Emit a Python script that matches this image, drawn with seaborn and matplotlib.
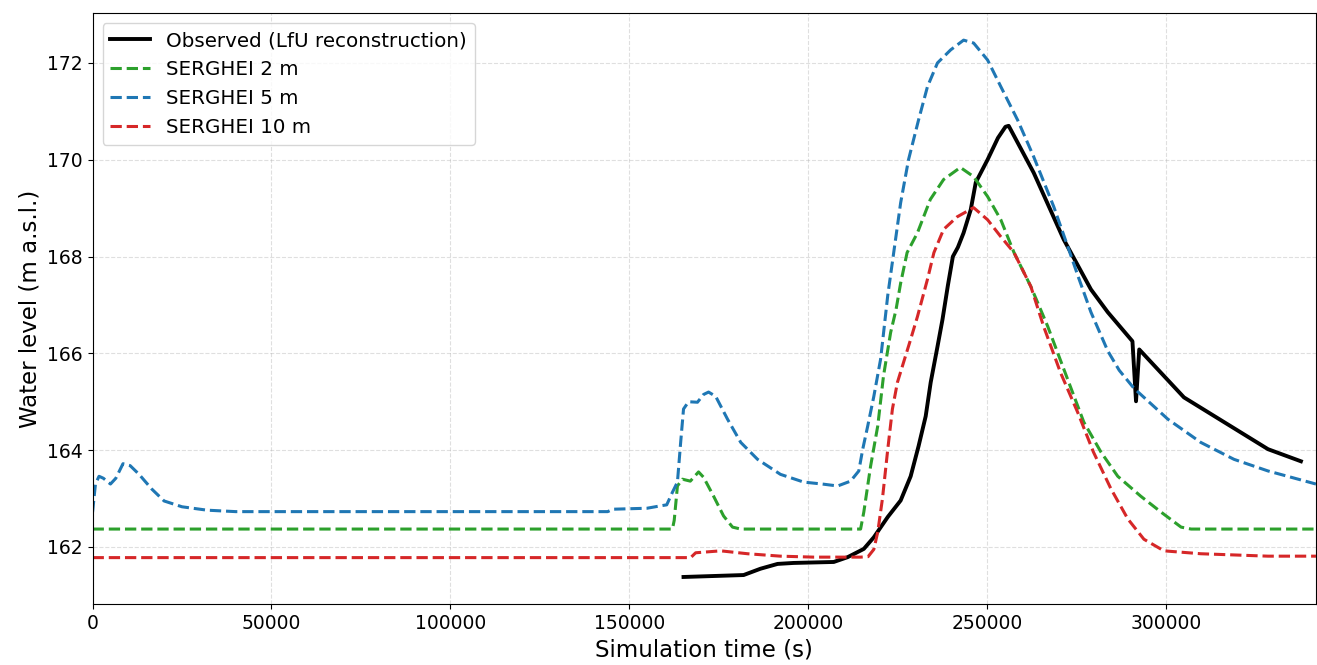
import numpy as np
import pandas as pd
import seaborn as sns
import matplotlib
matplotlib.use("Agg")
import matplotlib.pyplot as plt

# Observed water level (LfU reconstruction)
t_obs = [165200, 173600, 182000, 186700, 191500, 196000, 207200, 211100, 215600,
         218400, 222300, 225900, 228700, 230900, 232900, 234300, 236200, 237600,
         239100, 240500, 241900, 243500, 245500, 246900, 250200, 253100, 255200,
         256100, 263100, 271500, 279100, 283800, 290700, 291700, 292600, 305100,
         328600, 337800]
h_obs = [161.38, 161.40, 161.42, 161.55, 161.65, 161.67, 161.69, 161.79, 161.96,
         162.20, 162.62, 162.96, 163.46, 164.08, 164.70, 165.40, 166.14, 166.70,
         167.40, 168.00, 168.19, 168.49, 168.97, 169.53, 170.00, 170.45, 170.68,
         170.70, 169.73, 168.35, 167.32, 166.85, 166.25, 165.01, 166.08, 165.09,
         164.02, 163.77]

# SERGHEI 2 m
t_2m = [0, 162100, 162600, 163500, 164900, 167100, 169400, 170800, 173600, 176400,
        178900, 181200, 214700, 215600, 217500, 219500, 221100, 223100, 224600,
        225900, 227700, 230600, 234200, 237900, 242600, 246300, 250200, 253900,
        257600, 262300, 267000, 272600, 277100, 281900, 286600, 293000, 298700,
        304300, 307100, 342000]
h_2m = [162.37, 162.37, 162.55, 163.26, 163.40, 163.36, 163.55, 163.44, 163.05, 162.64,
        162.41, 162.37, 162.37, 162.72, 163.67, 164.50, 165.53, 166.43, 166.90,
        167.45, 168.08, 168.49, 169.18, 169.59, 169.84, 169.65, 169.24, 168.76,
        168.08, 167.38, 166.56, 165.46, 164.58, 163.96, 163.46, 163.05, 162.72,
        162.41, 162.37, 162.37]

# SERGHEI 5 m
t_5m = [0, 800, 1800, 3000, 5000, 6500, 8500, 10500, 13000, 16500, 20000, 25000,
        32000, 40000, 144000, 145500, 155000, 158800, 160500, 162100, 163500, 164400,
        165200, 166600, 169100, 170800, 172200, 174200, 177500, 181200, 185900,
        192300, 198800, 204000, 208300, 211900, 214200, 215300, 216700, 218400,
        220300, 222300, 225900, 228100, 230900, 233400, 236200, 239900, 243500,
        246300, 250200, 253900, 258600, 263100, 268700, 272600, 275700, 279100,
        283800, 287000, 291100, 300600, 309800, 319100, 328600, 342000]
h_5m = [162.72, 163.30, 163.46, 163.42, 163.30, 163.42, 163.72, 163.68, 163.50, 163.20,
        162.95, 162.83, 162.76, 162.73, 162.73, 162.78, 162.80, 162.85, 162.87, 163.13,
        163.34, 164.16, 164.85, 165.00, 164.99, 165.15, 165.20, 165.11, 164.64,
        164.16, 163.81, 163.50, 163.34, 163.30, 163.26, 163.36, 163.57, 164.02,
        164.50, 165.11, 165.88, 167.20, 169.11, 170.00, 170.82, 171.51, 172.00,
        172.27, 172.47, 172.41, 172.06, 171.51, 170.82, 170.06, 169.03, 168.21,
        167.55, 166.85, 166.05, 165.65, 165.28, 164.64, 164.16, 163.81, 163.57,
        163.30]

# SERGHEI 10 m
t_10m = [0, 167200, 168600, 175600, 183100, 192300, 201600, 214700, 216800, 218400,
         219500, 220800, 222300, 223600, 225000, 226700, 228700, 230600, 233400,
         235200, 237900, 241700, 246300, 250200, 253900, 257600, 262300, 265900,
         270600, 275400, 279800, 284700, 289400, 293900, 299500, 309800, 328600,
         342000]
h_10m = [161.78, 161.78, 161.88, 161.92, 161.86, 161.81, 161.79, 161.79, 161.80,
         161.95, 162.31, 162.99, 164.02, 164.85, 165.40, 165.81, 166.29, 166.76,
         167.53, 168.08, 168.56, 168.82, 169.01, 168.76, 168.41, 168.08, 167.38,
         166.55, 165.60, 164.78, 163.96, 163.20, 162.58, 162.16, 161.92, 161.86,
         161.81, 161.81]

fig, ax = plt.subplots(figsize=(13.17, 6.65), dpi=100)

sns.lineplot(x=t_obs, y=h_obs, ax=ax, color="black", linewidth=2.8,
             estimator=None, sort=False, label="Observed (LfU reconstruction)")
sns.lineplot(x=t_2m, y=h_2m, ax=ax, color="tab:green", linewidth=2.2, linestyle="--",
             estimator=None, sort=False, label="SERGHEI 2 m")
sns.lineplot(x=t_5m, y=h_5m, ax=ax, color="tab:blue", linewidth=2.2, linestyle="--",
             estimator=None, sort=False, label="SERGHEI 5 m")
sns.lineplot(x=t_10m, y=h_10m, ax=ax, color="tab:red", linewidth=2.2, linestyle="--",
             estimator=None, sort=False, label="SERGHEI 10 m")

ax.set_xlim(0, 342000)
ax.set_xlabel("Simulation time (s)", fontsize=16.5)
ax.set_ylabel("Water level (m a.s.l.)", fontsize=16.5)
ax.tick_params(labelsize=13.5)
ax.grid(True, linestyle="--", alpha=0.4)
ax.legend(loc="upper left", fontsize=14.3)

fig.subplots_adjust(left=0.0703, right=0.9992, top=0.980, bottom=0.092)
fig.savefig("out.png", dpi=100)
